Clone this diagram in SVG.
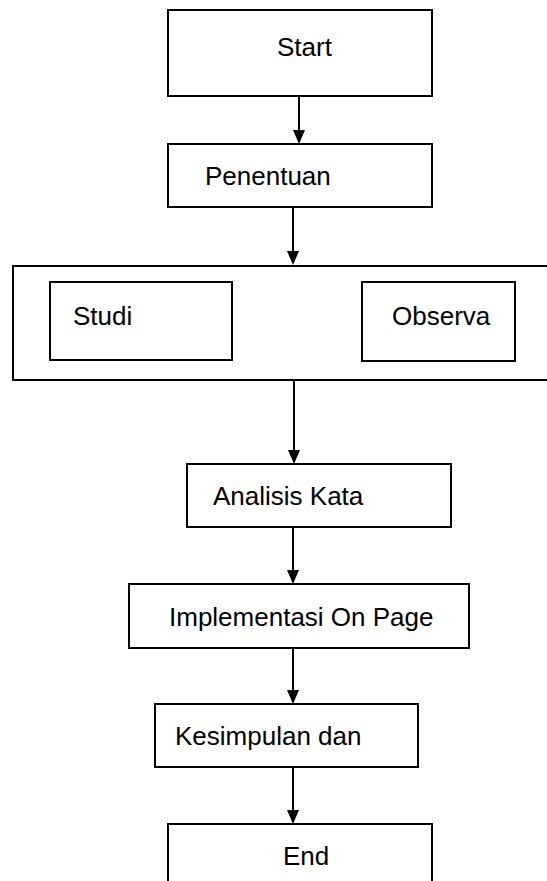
<svg xmlns="http://www.w3.org/2000/svg" width="547" height="881" viewBox="0 0 547 881">
  <style>
    .box { fill: #ffffff; stroke: #000000; stroke-width: 2; }
    .lbl { font-family: "Liberation Sans", Arial, sans-serif; font-size: 26px; fill: #000000; }
    .conn { stroke: #000000; stroke-width: 2; fill: none; marker-end: url(#arrow); }
  </style>
  <defs>
    <marker id="arrow" viewBox="0 0 14 12" markerWidth="14" markerHeight="12" refX="12" refY="6" orient="auto" markerUnits="userSpaceOnUse">
      <path d="M0,0 L14,6 L0,12 z" fill="#000000"/>
    </marker>
  </defs>
  <rect width="547" height="881" fill="#ffffff"/>

  <g id="start">
    <rect class="box" x="168" y="10" width="264" height="86"/>
    <text class="lbl" x="277" y="56">Start</text>
  </g>
  <g id="penentuan">
    <rect class="box" x="168" y="144" width="264" height="63"/>
    <text class="lbl" x="205" y="185">Penentuan</text>
  </g>
  <g id="group">
    <rect class="box" x="13" y="266" width="560" height="114"/>
  </g>
  <g id="studi">
    <rect class="box" x="50" y="282" width="182" height="78"/>
    <text class="lbl" x="73" y="325">Studi</text>
  </g>
  <g id="observa">
    <rect class="box" x="362" y="282" width="153" height="79"/>
    <text class="lbl" x="392" y="325">Observa</text>
  </g>
  <g id="analisis">
    <rect class="box" x="187" y="464" width="264" height="63"/>
    <text class="lbl" x="213" y="505">Analisis Kata</text>
  </g>
  <g id="implementasi">
    <rect class="box" x="129" y="584" width="340" height="64"/>
    <text class="lbl" x="169" y="626">Implementasi On Page</text>
  </g>
  <g id="kesimpulan">
    <rect class="box" x="155" y="704" width="263" height="63"/>
    <text class="lbl" x="175" y="745">Kesimpulan dan</text>
  </g>
  <g id="end">
    <rect class="box" x="168" y="824" width="264" height="80"/>
    <text class="lbl" x="283" y="865">End</text>
  </g>

  <g id="connectors">
    <line class="conn" x1="299" y1="96" x2="299" y2="142"/>
    <line class="conn" x1="293" y1="207" x2="293" y2="263"/>
    <line class="conn" x1="294" y1="380" x2="294" y2="462"/>
    <line class="conn" x1="293" y1="527" x2="293" y2="582"/>
    <line class="conn" x1="293" y1="648" x2="293" y2="702"/>
    <line class="conn" x1="293" y1="767" x2="293" y2="822"/>
  </g>
</svg>
